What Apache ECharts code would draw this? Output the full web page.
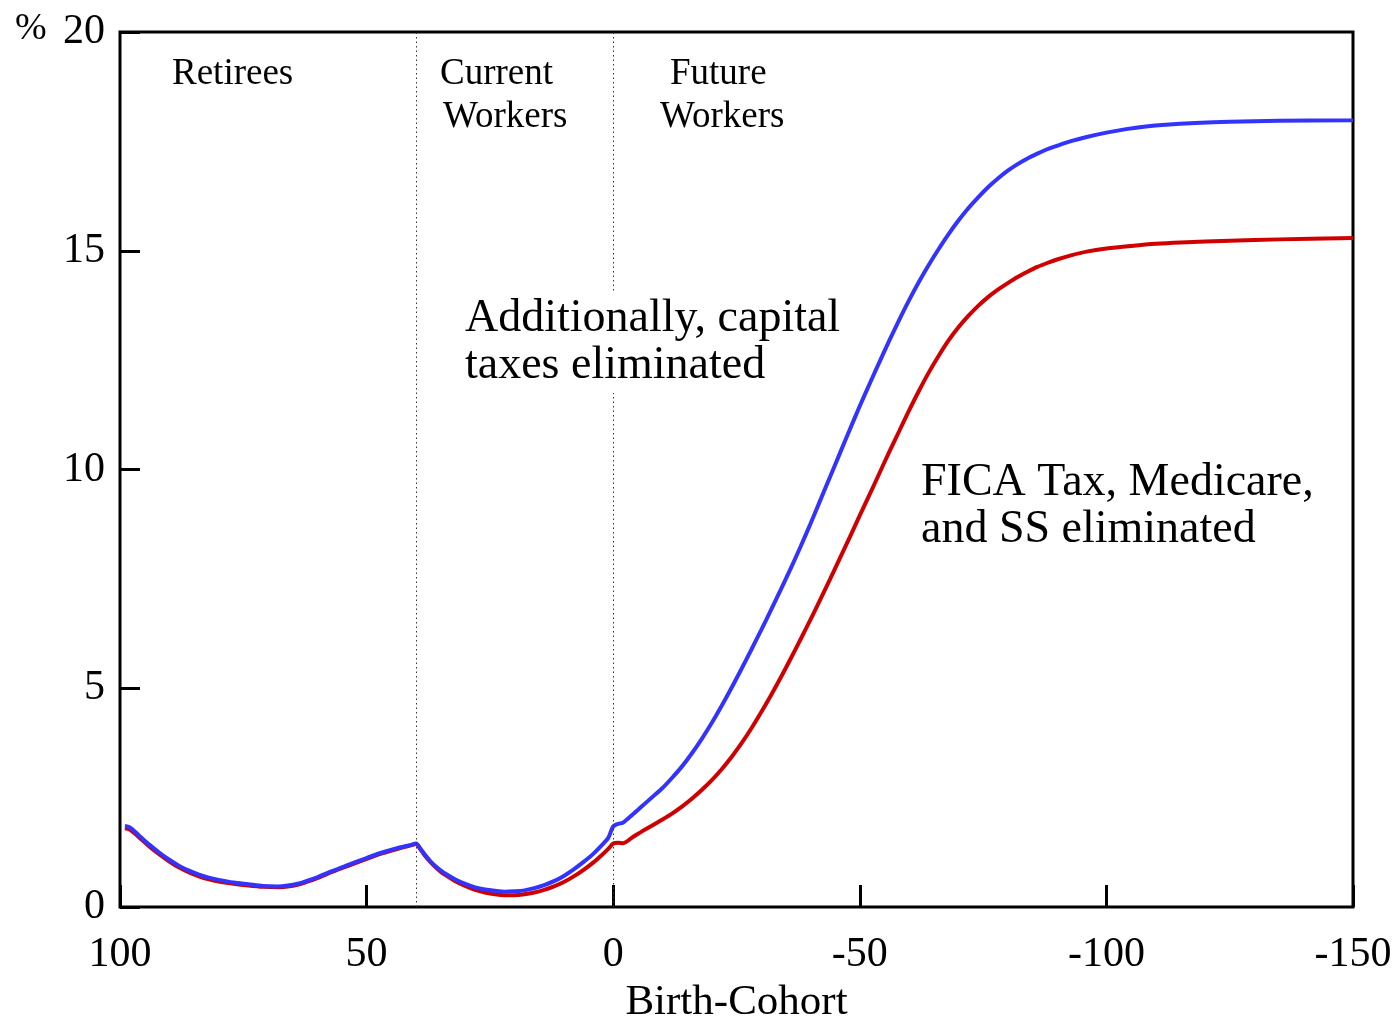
<!DOCTYPE html>
<html>
<head>
<meta charset="utf-8">
<title>Birth-Cohort tax rate changes</title>
<script src="https://cdn.jsdelivr.net/npm/echarts@6/dist/echarts.min.js"></script>
<style>
  html, body { margin: 0; padding: 0; background: #fff; }
  #chart { width: 1393px; height: 1021px; }
</style>
</head>
<body>
<div id="chart"></div>
<script>
// Birth cohort (years) and percentage values for each policy scenario
var ficaEliminated = [
  [99,1.8],[98,1.77],[96,1.58],[94,1.38],[92,1.2],[90,1.04],[88,0.9],[86,0.79],[84,0.7],[82,0.63],
  [80,0.58],[77,0.53],[74,0.49],[71,0.46],[68,0.45],[66,0.47],[64,0.51],[62,0.58],[60,0.66],[57,0.8],
  [54,0.93],[50,1.1],[47,1.22],[44,1.32],[41,1.41],[40,1.44],[39,1.3],[38,1.15],[37,1.02],[36,0.91],
  [35,0.81],[34,0.73],[32,0.59],[30,0.48],[28,0.39],[26,0.33],[24,0.29],[22,0.27],[20,0.27],[18,0.29],
  [16,0.33],[14,0.39],[12,0.47],[10,0.57],[8,0.7],[6,0.85],[4,1.02],[2,1.22],[1,1.33],[0,1.45],
  [-1,1.47],[-2,1.46],[-4,1.6],[-6,1.74],[-8,1.87],[-10,2.0],[-12,2.14],[-14,2.3],[-16,2.48],[-18,2.68],
  [-20,2.9],[-22,3.15],[-24,3.43],[-26,3.74],[-28,4.08],[-30,4.45],[-32,4.84],[-34,5.25],[-36,5.68],[-38,6.12],
  [-40,6.57],[-42,7.03],[-44,7.5],[-46,7.98],[-48,8.46],[-50,8.95],[-52,9.43],[-54,9.92],[-56,10.41],[-58,10.88],
  [-60,11.35],[-62,11.8],[-64,12.22],[-66,12.6],[-68,12.95],[-70,13.25],[-72,13.51],[-74,13.74],[-76,13.94],[-78,14.11],
  [-80,14.26],[-82,14.4],[-84,14.52],[-86,14.63],[-88,14.72],[-90,14.8],[-93,14.9],[-96,14.98],[-100,15.05],[-105,15.11],
  [-110,15.16],[-115,15.19],[-125,15.23],[-135,15.26],[-150,15.29]
];

var capitalTaxesEliminated = [
  [99,1.85],[98,1.82],[96,1.62],[94,1.42],[92,1.24],[90,1.08],[88,0.94],[86,0.83],[84,0.74],[82,0.67],
  [80,0.62],[77,0.56],[74,0.52],[71,0.48],[68,0.47],[66,0.49],[64,0.53],[62,0.6],[60,0.68],[57,0.82],
  [54,0.95],[50,1.12],[47,1.24],[44,1.34],[41,1.42],[40,1.45],[39,1.32],[38,1.17],[37,1.04],[36,0.93],
  [35,0.84],[34,0.76],[32,0.63],[30,0.53],[28,0.45],[26,0.4],[24,0.37],[22,0.35],[20,0.36],[18,0.38],
  [16,0.43],[14,0.5],[12,0.59],[10,0.71],[8,0.86],[6,1.03],[4,1.22],[2,1.45],[1,1.58],[0,1.84],
  [-1,1.9],[-2,1.93],[-4,2.12],[-6,2.32],[-8,2.52],[-10,2.72],[-12,2.96],[-14,3.22],[-16,3.52],[-18,3.85],
  [-20,4.21],[-22,4.6],[-24,5.01],[-26,5.44],[-28,5.88],[-30,6.33],[-32,6.79],[-34,7.26],[-36,7.74],[-38,8.24],
  [-40,8.76],[-42,9.3],[-44,9.84],[-46,10.38],[-48,10.92],[-50,11.45],[-52,11.96],[-54,12.46],[-56,12.95],[-58,13.42],
  [-60,13.87],[-62,14.29],[-64,14.68],[-66,15.04],[-68,15.38],[-70,15.69],[-72,15.97],[-74,16.22],[-76,16.45],[-78,16.65],
  [-80,16.83],[-82,16.98],[-84,17.11],[-86,17.22],[-88,17.32],[-90,17.4],[-93,17.51],[-96,17.6],[-100,17.7],[-104,17.78],
  [-108,17.84],[-112,17.88],[-118,17.92],[-125,17.95],[-135,17.97],[-150,17.98]
];

// Cohort boundaries: retirees | current workers | future workers
var cohortBoundaries = [40, 0];

var xRange = { min: -150, max: 100, step: 50 };
var yRange = { min: 0, max: 20, step: 5 };

var serif = '"Liberation Serif", "DejaVu Serif", serif';

var chart = echarts.init(document.getElementById('chart'), null, { renderer: 'canvas' });

function label(text, x, y, size, extra) {
  var style = { text: text, x: x, y: y, fill: '#000', font: size + 'px ' + serif,
                textAlign: 'left', textVerticalAlign: 'middle' };
  if (extra) { for (var k in extra) style[k] = extra[k]; }
  return { type: 'text', z: 100, style: style };
}

chart.setOption({
  animation: false,
  backgroundColor: '#fff',
  grid: {
    left: 120, right: 40, top: 32, bottom: 114,
    outerBoundsMode: 'none',
    containLabel: false,
    show: true, borderColor: '#000', borderWidth: 3, backgroundColor: 'transparent'
  },
  xAxis: {
    type: 'value',
    inverse: true,
    min: xRange.min, max: xRange.max, interval: xRange.step,
    name: 'Birth-Cohort',
    nameLocation: 'middle',
    nameGap: 70,
    nameTextStyle: { fontFamily: serif, fontSize: 43, color: '#000' },
    axisLine: { show: false, onZero: false },
    axisTick: { show: true, inside: true, length: 22, lineStyle: { color: '#000', width: 3 } },
    axisLabel: { margin: 27, fontFamily: serif, fontSize: 42, color: '#000' },
    splitLine: { show: false }
  },
  yAxis: {
    type: 'value',
    min: yRange.min, max: yRange.max, interval: yRange.step,
    axisLine: { show: false, onZero: false },
    axisTick: { show: true, inside: true, length: 20, lineStyle: { color: '#000', width: 3 } },
    axisLabel: { margin: 15, fontFamily: serif, fontSize: 42, color: '#000' },
    splitLine: { show: false }
  },
  series: [
    {
      name: 'FICA Tax, Medicare, and SS eliminated',
      type: 'line',
      data: ficaEliminated,
      showSymbol: false,
      smooth: 0.3,
      lineStyle: { color: '#d00000', width: 4 },
      z: 3,
      markLine: {
        silent: true,
        symbol: ['none', 'none'],
        label: { show: false },
        lineStyle: { color: '#333', type: [1.5, 3], width: 1 },
        data: cohortBoundaries.map(function (v) { return { xAxis: v }; })
      }
    },
    {
      name: 'Additionally, capital taxes eliminated',
      type: 'line',
      data: capitalTaxesEliminated,
      showSymbol: false,
      smooth: 0.3,
      lineStyle: { color: '#3333ff', width: 4 },
      z: 4
    }
  ],
  graphic: [
    label('%', 15, 29, 38),
    label('Retirees', 172, 74, 37),
    label('Current', 440, 74, 37),
    label('Workers', 443, 117, 37),
    label('Future', 670, 74, 37),
    label('Workers', 660, 117, 37),
    label('Additionally, capital\ntaxes eliminated', 459, 342, 46,
          { backgroundColor: '#fff', padding: [4, 6, 4, 6], lineHeight: 47 }),
    label('FICA Tax, Medicare,\nand SS eliminated', 921, 506, 46, { lineHeight: 47 })
  ]
});
</script>
</body>
</html>
